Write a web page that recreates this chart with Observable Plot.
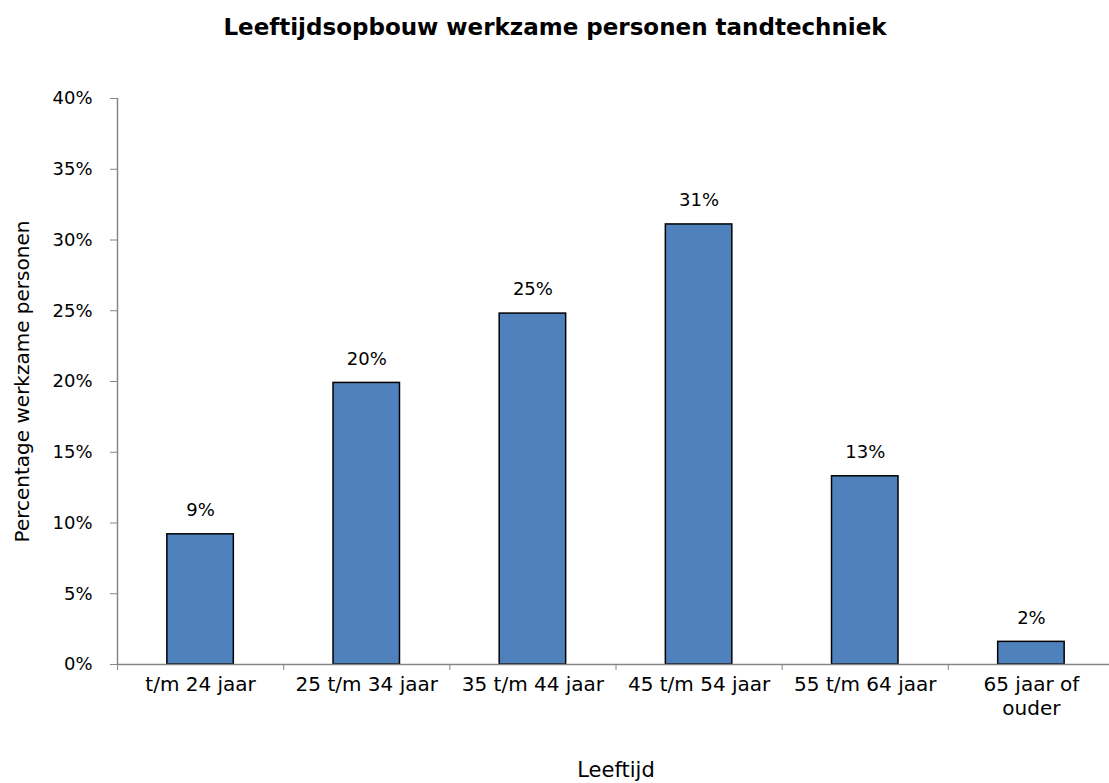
<!DOCTYPE html>
<html>
<head>
<meta charset="utf-8">
<script src="https://cdn.jsdelivr.net/npm/d3@7"></script>
<script src="https://cdn.jsdelivr.net/npm/@observablehq/plot@0.6"></script>
<style>
  html, body { margin: 0; padding: 0; background: #fff; }
  #chart { width: 1109px; height: 783px; overflow: hidden; }
</style>
</head>
<body>
<div id="chart"></div>
<script>
const title = "Leeftijdsopbouw werkzame personen tandtechniek";
const xTitle = "Leeftijd";
const yTitle = "Percentage werkzame personen";
const categories = ["t/m 24 jaar", "25 t/m 34 jaar", "35 t/m 44 jaar", "45 t/m 54 jaar", "55 t/m 64 jaar", "65 jaar of\nouder"];
const values = [9.2, 19.9, 24.8, 31.1, 13.3, 1.6];
const valueLabels = ["9%", "20%", "25%", "31%", "13%", "2%"];
const yTicks = [0, 5, 10, 15, 20, 25, 30, 35, 40];

const data = categories.map((c, i) => ({i, category: c, value: values[i], label: valueLabels[i]}));
const font = "'DejaVu Sans', 'Open Sans', sans-serif";
const gray = "#868686";

const chart = Plot.plot({
  width: 1109,
  height: 783,
  marginTop: 98,
  marginBottom: 119,
  marginLeft: 117,
  marginRight: -5,
  style: {fontFamily: font, fontSize: "19px", background: "white", overflow: "visible"},
  x: {type: "linear", domain: [0, categories.length], axis: null},
  y: {domain: [0, 40], axis: null},
  marks: [
    Plot.rectY(data, {x1: d => d.i + 0.3, x2: d => d.i + 0.7, y: "value", fill: "#4F81BD", stroke: "black", strokeWidth: 1.5}),
    Plot.ruleY([0], {stroke: gray, strokeWidth: 1.5}),
    Plot.ruleX([0], {stroke: gray, strokeWidth: 1.5}),
    Plot.axisY({ticks: yTicks, tickFormat: d => d + "%", tickSize: 7, tickPadding: 18, stroke: gray, color: "black", fontSize: 18, label: null}),
    Plot.axisX({ticks: d3.range(categories.length + 1), tickSize: 6, tickFormat: () => "", stroke: gray, label: null}),
    Plot.axisX({ticks: data.map(d => d.i + 0.5), tickSize: 0, tickPadding: 9, tickFormat: v => categories[Math.round(v - 0.5)], lineHeight: 1.2, color: "black", fontSize: 20, style: {letterSpacing: "0.6px"}, label: null}),
    Plot.text(data, {x: d => d.i + 0.5, y: "value", text: "label", dy: -24, fontSize: 18, fill: "black"}),
    Plot.text([title], {frameAnchor: "top", dx: -61, dy: -80, fontSize: 23, fontWeight: "bold", fill: "black"}),
    Plot.text([xTitle], {frameAnchor: "bottom", dy: 112, fontSize: 21, fill: "black", style: {letterSpacing: "0.8px"}}),
    Plot.text([yTitle], {frameAnchor: "left", dx: -95, rotate: -90, textAnchor: "middle", fontSize: 20, fill: "black", style: {letterSpacing: "0.5px"}})
  ]
});
document.getElementById("chart").appendChild(chart);
</script>
</body>
</html>
